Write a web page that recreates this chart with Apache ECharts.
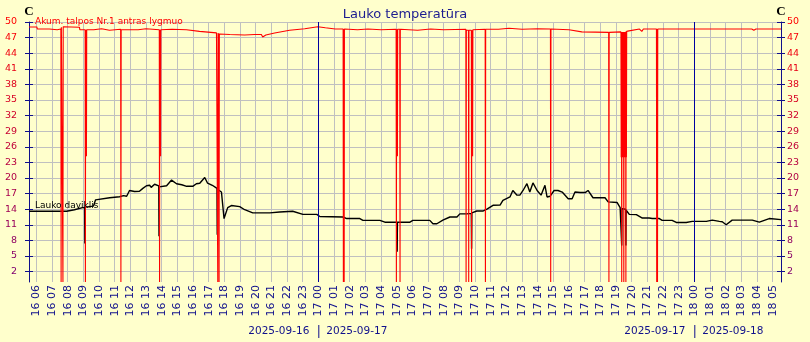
<!DOCTYPE html>
<html>
<head>
<meta charset="utf-8">
<script src="https://cdn.jsdelivr.net/npm/echarts@6/dist/echarts.min.js"></script>
<style>
html, body { margin: 0; padding: 0; background: #ffffcc; }
#main { width: 810px; height: 342px; }
</style>
</head>
<body>
<div id="main"></div>
<script>
// laiko intervalas (48 val.)
var axisMin = '2025-09-16 05:32';
var axisMax = '2025-09-18 05:32';
var yTicks = [2, 5, 8, 11, 14, 17, 20, 23, 26, 29, 32, 35, 38, 41, 44, 47, 50];
var dayMarks = ['2025-09-17 00:00', '2025-09-18 00:00'];
var dayLabels = [['2025-09-16', '2025-09-17'], ['2025-09-17', '2025-09-18']];
var laukoName = 'Lauko daviklis';
var talposName = 'Akum. talpos Nr.1 antras lygmuo';

// Lauko daviklis
var laukoData = [
	['2025-09-16 05:32', 13.6], ['2025-09-16 07:56', 13.6], ['2025-09-16 08:26', 13.9],
	['2025-09-16 08:57', 14.3], ['2025-09-16 09:05', 14.3], ['2025-09-16 09:06', 7.4],
	['2025-09-16 09:07', 14.4], ['2025-09-16 09:39', 14.6], ['2025-09-16 09:47', 15.8],
	['2025-09-16 10:41', 16.2], ['2025-09-16 11:19', 16.4], ['2025-09-16 11:34', 16.6],
	['2025-09-16 11:46', 16.5], ['2025-09-16 11:57', 17.6], ['2025-09-16 12:16', 17.4],
	['2025-09-16 12:35', 17.45], ['2025-09-16 12:48', 18.0], ['2025-09-16 13:02', 18.5],
	['2025-09-16 13:14', 18.6], ['2025-09-16 13:20', 18.2], ['2025-09-16 13:33', 18.8],
	['2025-09-16 13:49', 18.5], ['2025-09-16 13:50', 8.8], ['2025-09-16 13:51', 18.3],
	['2025-09-16 14:19', 18.5], ['2025-09-16 14:38', 19.6], ['2025-09-16 14:57', 18.9],
	['2025-09-16 15:17', 18.7], ['2025-09-16 15:36', 18.4], ['2025-09-16 15:59', 18.4],
	['2025-09-16 16:13', 18.9], ['2025-09-16 16:26', 19.0], ['2025-09-16 16:45', 20.1],
	['2025-09-16 16:56', 19.0], ['2025-09-16 17:14', 18.6], ['2025-09-16 17:32', 18.0],
	['2025-09-16 17:33', 9.1], ['2025-09-16 17:34', 17.8], ['2025-09-16 17:49', 17.3],
	['2025-09-16 17:59', 12.2], ['2025-09-16 18:13', 14.3], ['2025-09-16 18:27', 14.7],
	['2025-09-16 18:59', 14.5], ['2025-09-16 19:18', 13.9], ['2025-09-16 19:49', 13.3],
	['2025-09-16 20:54', 13.3], ['2025-09-16 21:32', 13.45], ['2025-09-16 22:22', 13.6],
	['2025-09-16 23:01', 13.0], ['2025-09-16 23:54', 13.0], ['2025-09-17 00:06', 12.6],
	['2025-09-17 01:34', 12.5], ['2025-09-17 01:49', 12.2], ['2025-09-17 02:39', 12.2],
	['2025-09-17 02:51', 11.85], ['2025-09-17 03:56', 11.85], ['2025-09-17 04:15', 11.5],
	['2025-09-17 05:01', 11.5], ['2025-09-17 05:02', 5.8], ['2025-09-17 05:03', 11.5],
	['2025-09-17 05:51', 11.5], ['2025-09-17 06:02', 11.85], ['2025-09-17 07:07', 11.85],
	['2025-09-17 07:19', 11.2], ['2025-09-17 07:34', 11.2], ['2025-09-17 07:57', 11.9],
	['2025-09-17 08:24', 12.5], ['2025-09-17 08:51', 12.5], ['2025-09-17 09:02', 13.1],
	['2025-09-17 09:29', 13.1], ['2025-09-17 09:46', 13.2], ['2025-09-17 09:47', 6.4],
	['2025-09-17 09:48', 13.3], ['2025-09-17 10:07', 13.65], ['2025-09-17 10:30', 13.65],
	['2025-09-17 10:46', 14.0], ['2025-09-17 11:09', 14.75], ['2025-09-17 11:36', 14.8],
	['2025-09-17 11:47', 15.7], ['2025-09-17 12:14', 16.35], ['2025-09-17 12:25', 17.6],
	['2025-09-17 12:41', 16.7], ['2025-09-17 12:52', 16.7], ['2025-09-17 13:04', 17.6],
	['2025-09-17 13:19', 18.9], ['2025-09-17 13:30', 17.3], ['2025-09-17 13:42', 19.05],
	['2025-09-17 13:58', 17.6], ['2025-09-17 14:13', 16.7], ['2025-09-17 14:28', 18.6],
	['2025-09-17 14:36', 16.35], ['2025-09-17 14:48', 16.5], ['2025-09-17 15:03', 17.6],
	['2025-09-17 15:18', 17.6], ['2025-09-17 15:34', 17.3], ['2025-09-17 15:57', 16.0],
	['2025-09-17 16:12', 16.0], ['2025-09-17 16:23', 17.3], ['2025-09-17 16:43', 17.2],
	['2025-09-17 17:02', 17.2], ['2025-09-17 17:13', 17.6], ['2025-09-17 17:32', 16.2],
	['2025-09-17 18:18', 16.2], ['2025-09-17 18:30', 15.4], ['2025-09-17 19:04', 15.3],
	['2025-09-17 19:16', 14.3], ['2025-09-17 19:21', 14.2], ['2025-09-17 19:22', 7.0],
	['2025-09-17 19:23', 14.1], ['2025-09-17 19:37', 14.0], ['2025-09-17 19:38', 7.0],
	['2025-09-17 19:39', 13.8], ['2025-09-17 19:51', 13.0], ['2025-09-17 20:18', 12.95],
	['2025-09-17 20:41', 12.3], ['2025-09-17 21:07', 12.3], ['2025-09-17 21:19', 12.2],
	['2025-09-17 21:46', 12.2], ['2025-09-17 21:57', 11.85], ['2025-09-17 22:35', 11.85],
	['2025-09-17 22:51', 11.45], ['2025-09-17 23:29', 11.45], ['2025-09-17 23:52', 11.65],
	['2025-09-18 00:46', 11.65], ['2025-09-18 01:09', 11.9], ['2025-09-18 01:36', 11.65],
	['2025-09-18 01:47', 11.6], ['2025-09-18 02:02', 11.0], ['2025-09-18 02:25', 11.9],
	['2025-09-18 03:42', 11.9], ['2025-09-18 04:09', 11.5], ['2025-09-18 04:47', 12.2],
	['2025-09-18 05:32', 12.0]
];

// Akum. talpos Nr.1 antras lygmuo
var talposData = [
	['2025-09-16 05:32', 49.05], ['2025-09-16 06:02', 49.05], ['2025-09-16 06:04', 48.65],
	['2025-09-16 06:50', 48.65], ['2025-09-16 06:52', 48.5], ['2025-09-16 07:20', 48.5],
	['2025-09-16 07:22', 48.65], ['2025-09-16 07:34', 48.65], ['2025-09-16 07:35', 0],
	['2025-09-16 07:36', 49.0], ['2025-09-16 07:41', 49.0], ['2025-09-16 07:42', 0],
	['2025-09-16 07:43', 49.1], ['2025-09-16 08:45', 49.0], ['2025-09-16 08:47', 48.5],
	['2025-09-16 09:07', 48.5], ['2025-09-16 09:08', 0], ['2025-09-16 09:09', 48.5],
	['2025-09-16 09:12', 24.2], ['2025-09-16 09:13', 48.5], ['2025-09-16 09:40', 48.5],
	['2025-09-16 09:42', 48.7], ['2025-09-16 10:10', 48.7], ['2025-09-16 10:12', 48.4],
	['2025-09-16 10:40', 48.4], ['2025-09-16 10:42', 48.6], ['2025-09-16 11:23', 48.6],
	['2025-09-16 11:24', 0], ['2025-09-16 11:25', 48.5], ['2025-09-16 12:30', 48.5],
	['2025-09-16 12:32', 48.7], ['2025-09-16 13:00', 48.7], ['2025-09-16 13:02', 48.5],
	['2025-09-16 13:51', 48.5], ['2025-09-16 13:52', 0], ['2025-09-16 13:53', 48.5],
	['2025-09-16 13:56', 24.2], ['2025-09-16 13:57', 48.5], ['2025-09-16 14:40', 48.6],
	['2025-09-16 15:35', 48.5], ['2025-09-16 16:25', 48.2], ['2025-09-16 17:30', 47.9],
	['2025-09-16 17:34', 47.9], ['2025-09-16 17:35', 0], ['2025-09-16 17:36', 47.9],
	['2025-09-16 17:38', 24.0], ['2025-09-16 17:39', 47.8], ['2025-09-16 17:40', 0],
	['2025-09-16 17:41', 47.7], ['2025-09-16 18:21', 47.6], ['2025-09-16 19:18', 47.5],
	['2025-09-16 19:56', 47.6], ['2025-09-16 20:22', 47.6], ['2025-09-16 20:27', 47.1],
	['2025-09-16 20:39', 47.5], ['2025-09-16 21:13', 47.9], ['2025-09-16 22:10', 48.4],
	['2025-09-16 23:08', 48.7], ['2025-09-16 23:58', 49.1], ['2025-09-17 00:27', 48.9],
	['2025-09-17 01:05', 48.65], ['2025-09-17 01:35', 48.65], ['2025-09-17 01:36', 0],
	['2025-09-17 01:37', 48.65], ['2025-09-17 01:39', 0], ['2025-09-17 01:40', 48.65],
	['2025-09-17 02:30', 48.5], ['2025-09-17 03:10', 48.65], ['2025-09-17 04:00', 48.5],
	['2025-09-17 04:58', 48.6], ['2025-09-17 04:59', 0], ['2025-09-17 05:00', 48.6],
	['2025-09-17 05:03', 24.2], ['2025-09-17 05:04', 48.6], ['2025-09-17 05:12', 48.6],
	['2025-09-17 05:13', 0], ['2025-09-17 05:14', 48.6], ['2025-09-17 06:20', 48.4],
	['2025-09-17 07:10', 48.65], ['2025-09-17 08:00', 48.5], ['2025-09-17 09:25', 48.6],
	['2025-09-17 09:26', 0], ['2025-09-17 09:27', 48.4], ['2025-09-17 09:35', 48.4],
	['2025-09-17 09:36', 0], ['2025-09-17 09:37', 48.4], ['2025-09-17 09:46', 48.4],
	['2025-09-17 09:47', 0], ['2025-09-17 09:48', 48.4], ['2025-09-17 09:51', 24.2],
	['2025-09-17 09:52', 48.5], ['2025-09-17 10:39', 48.6], ['2025-09-17 10:40', 0],
	['2025-09-17 10:41', 48.6], ['2025-09-17 11:30', 48.6], ['2025-09-17 12:10', 48.8],
	['2025-09-17 13:00', 48.6], ['2025-09-17 14:00', 48.7], ['2025-09-17 14:49', 48.65],
	['2025-09-17 14:50', 0], ['2025-09-17 14:51', 48.65], ['2025-09-17 16:00', 48.5],
	['2025-09-17 16:49', 48.1], ['2025-09-17 18:32', 48.0], ['2025-09-17 18:33', 0],
	['2025-09-17 18:34', 48.0], ['2025-09-17 19:19', 48.1], ['2025-09-17 19:20', 24.0],
	['2025-09-17 19:21', 48.1], ['2025-09-17 19:22', 0], ['2025-09-17 19:23', 48.1],
	['2025-09-17 19:24', 24.0], ['2025-09-17 19:25', 48.1], ['2025-09-17 19:26', 24.0],
	['2025-09-17 19:27', 48.1], ['2025-09-17 19:28', 24.0], ['2025-09-17 19:29', 48.1],
	['2025-09-17 19:30', 0], ['2025-09-17 19:31', 48.1], ['2025-09-17 19:32', 24.0],
	['2025-09-17 19:33', 48.1], ['2025-09-17 19:34', 24.0], ['2025-09-17 19:35', 48.1],
	['2025-09-17 19:36', 24.0], ['2025-09-17 19:37', 48.1], ['2025-09-17 19:38', 0],
	['2025-09-17 19:39', 48.2], ['2025-09-17 19:40', 24.0], ['2025-09-17 19:41', 48.2],
	['2025-09-17 19:50', 48.3], ['2025-09-17 20:30', 48.65], ['2025-09-17 20:39', 48.2],
	['2025-09-17 20:45', 48.65], ['2025-09-17 21:35', 48.65], ['2025-09-17 21:36', 0],
	['2025-09-17 21:37', 48.65], ['2025-09-17 21:39', 0], ['2025-09-17 21:40', 48.65],
	['2025-09-18 02:10', 48.65], ['2025-09-18 02:16', 48.4], ['2025-09-18 02:24', 48.65],
	['2025-09-18 03:40', 48.65], ['2025-09-18 03:48', 48.4], ['2025-09-18 03:56', 48.65],
	['2025-09-18 04:35', 48.65], ['2025-09-18 04:42', 48.4], ['2025-09-18 04:50', 48.65],
	['2025-09-18 05:32', 48.65]
];

function toMs(s) {
	var p = s.split(/[- :]/);
	return new Date(+p[0], p[1] - 1, +p[2], +p[3], +p[4]).getTime();
}
function pad(n) { return (n < 10 ? '0' : '') + n; }
function toPoints(arr) {
	return arr.map(function (d) { return [toMs(d[0]), d[1]]; });
}
// raudona virsuje -> violetine apacioje
function labelColor(v) {
	var f = (parseFloat(v) - 2) / 48;
	return 'rgb(' + Math.round(128 + 127 * f) + ',0,' + Math.round(112 * (1 - f)) + ')';
}

var xMin = toMs(axisMin), xMax = toMs(axisMax);
var hourTicks = [];
var h = new Date(xMin);
h.setMinutes(0, 0, 0);
h.setHours(h.getHours() + 1);
while (h.getTime() <= xMax) {
	hourTicks.push(h.getTime());
	h.setHours(h.getHours() + 1);
}

var navy = '#10108c';
var font = 'DejaVu Sans';

function yAxisDef(pos, inside, labels, margin) {
	return {
		type: 'value', position: pos, min: 0, max: 50,
		axisLine: { show: !inside, onZero: false, lineStyle: { color: navy, width: 1 } },
		axisTick: { show: true, inside: inside, length: 4, customValues: yTicks, lineStyle: { color: navy } },
		axisLabel: {
			show: labels, customValues: yTicks, margin: margin,
			fontFamily: font, fontSize: 9.5, color: labelColor
		},
		splitLine: { show: pos === 'left' && !inside, lineStyle: { color: '#c0c0c0', width: 1 } }
	};
}

var chart = echarts.init(document.getElementById('main'));
var option = {
	backgroundColor: '#ffffcc',
	animation: false,
	title: {
		text: 'Lauko temperatūra', left: 'center', top: 3,
		textStyle: { color: '#1c1c90', fontFamily: font, fontSize: 13, fontWeight: 'normal' }
	},
	grid: { left: 29, right: 29, top: 22, bottom: 60 },
	xAxis: {
		type: 'value', min: xMin, max: xMax,
		axisLine: { show: false, onZero: false },
		axisTick: { show: false, customValues: hourTicks },
		axisLabel: {
			customValues: hourTicks, rotate: 90, margin: 3,
			fontFamily: font, fontSize: 11, color: navy,
			formatter: function (v) {
				var d = new Date(v);
				return pad(d.getDate()) + ' ' + pad(d.getHours());
			}
		},
		splitLine: { show: true, lineStyle: { color: '#c0c0c0', width: 1 } }
	},
	yAxis: [
		yAxisDef('left', false, true, 12),
		yAxisDef('left', true, false, 8),
		yAxisDef('right', false, true, 6),
		yAxisDef('right', true, false, 8)
	],
	series: [
		{
			name: laukoName, type: 'line', data: toPoints(laukoData),
			showSymbol: false, symbol: 'none',
			lineStyle: { color: '#000000', width: 1.4 },
			markLine: {
				silent: true, symbol: 'none', label: { show: false },
				lineStyle: { color: '#0000a0', width: 1, type: 'solid' },
				data: dayMarks.map(function (d) { return { xAxis: toMs(d) }; })
			},
			z: 2
		},
		{
			name: talposName, type: 'line', data: toPoints(talposData),
			showSymbol: false, symbol: 'none',
			lineStyle: { color: '#ff0000', width: 1.1 },
			z: 3
		}
	]
};
chart.setOption(option);

// tekstai: C, legendos, datos apacioje
var g = [
	{ type: 'text', x: 29, y: 12, style: { text: 'C', font: 'bold 13px "Liberation Serif"', fill: '#000', align: 'center', verticalAlign: 'middle' } },
	{ type: 'text', x: 781, y: 12, style: { text: 'C', font: 'bold 13px "Liberation Serif"', fill: '#000', align: 'center', verticalAlign: 'middle' } },
	{ type: 'text', x: 35, y: 21.5, z: 10, style: { text: talposName, font: '9px "DejaVu Sans"', fill: '#ff0000', verticalAlign: 'middle' } },
	{ type: 'text', x: 35, y: 206, z: 10, style: { text: laukoName, font: '9px "DejaVu Sans"', fill: '#000', verticalAlign: 'middle' } }
];
dayMarks.forEach(function (d, i) {
	var px = chart.convertToPixel({ xAxisIndex: 0 }, toMs(d));
	g.push({ type: 'text', x: px - 9, y: 331, style: { text: dayLabels[i][0], font: '10.5px "DejaVu Sans"', fill: navy, align: 'right', verticalAlign: 'middle' } });
	g.push({ type: 'line', shape: { x1: px + 0.5, y1: 325, x2: px + 0.5, y2: 338 }, style: { stroke: navy, lineWidth: 1 } });
	g.push({ type: 'text', x: px + 8, y: 331, style: { text: dayLabels[i][1], font: '10.5px "DejaVu Sans"', fill: navy, align: 'left', verticalAlign: 'middle' } });
});
chart.setOption({ graphic: g });
</script>
</body>
</html>
